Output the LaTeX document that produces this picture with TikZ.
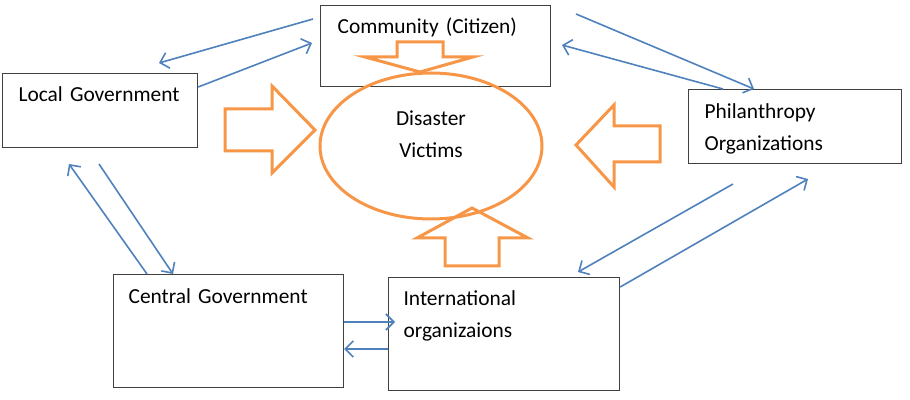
\documentclass[tikz,border=0pt]{standalone}
\usepackage{fontspec}
\setmainfont{Carlito}
\usetikzlibrary{arrows.meta,shapes.geometric}
\definecolor{frame}{HTML}{404040}
\definecolor{relation}{HTML}{4F81BD}
\definecolor{support}{HTML}{F79646}

\begin{document}
\begin{tikzpicture}[x=0.5pt,y=-0.5pt,
    actor/.style={draw=frame,line width=0.6pt,anchor=north west,inner ysep=0pt,
      align=left,font=\fontsize{10.7}{16}\selectfont},
    victims/.style={draw=support,line width=1.5pt,ellipse,inner sep=0pt,
      minimum width=111pt,minimum height=73pt,align=center,
      text height=23pt,text depth=11pt,font=\fontsize{10.7}{16}\selectfont},
    flow/.style={relation,line width=0.8pt,-{Straight Barb[length=4pt,width=8pt]}},
    aid/.style={support,line width=1.5pt,line join=miter}]
  \useasboundingbox (0,0) rectangle (910,400);

  % Actors
  \node[actor,inner xsep=8.5pt,text width=98pt,text height=14pt,text depth=26.5pt]
    (comm) at (320,5) {Community (Citizen)};
  \node[actor,inner xsep=8pt,text width=81.5pt,text height=14pt,text depth=23pt]
    (loc) at (2,73) {Local Government};
  \node[actor,inner xsep=8pt,text width=90.5pt,text height=14.5pt,text depth=22.5pt]
    (phil) at (688,89) {Philanthropy\\Organizations};
  \node[actor,inner xsep=7.5pt,text width=100pt,text height=14.5pt,text depth=42pt]
    (cen) at (113,274) {Central Government};
  \node[actor,inner xsep=7.5pt,text width=100.5pt,text height=14pt,text depth=42.5pt]
    (intl) at (388,277) {International\\organizaions};

  % Victims in the middle
  \node[victims] (vict) at (431,146) {Disaster\\Victims};

  % Help flowing towards the victims
  \draw[aid] (397,42) -- (443,42) -- (443,57) -- (473,57) -- (420,72)
    -- (365,57) -- (397,57) -- cycle;
  \draw[aid] (225,109) -- (272,109) -- (272,86) -- (315,130) -- (272,173)
    -- (272,151) -- (225,151) -- cycle;
  \draw[aid] (660,126) -- (614,126) -- (614,105) -- (576,145) -- (614,187)
    -- (614,162) -- (660,162) -- cycle;
  \draw[aid] (445,266) -- (445,238) -- (417,238) -- (472,208) -- (528,238)
    -- (499,238) -- (499,266) -- cycle;

  % Free ends of the relations
  \coordinate (comm-w1) at (313,19);
  \coordinate (loc-n) at (159,63);
  \coordinate (comm-w2) at (312,43);
  \coordinate (comm-e1) at (576,14);
  \coordinate (comm-e2) at (562,45);
  \coordinate (loc-s1) at (99,164);
  \coordinate (loc-s2) at (69,164);
  \coordinate (phil-s1) at (733,184);
  \coordinate (phil-s2) at (808,179);
  \coordinate (intl-n) at (578,272);

  % Relations between actors
  \draw[flow] (comm-w1) -- (loc-n);
  \draw[flow] ([yshift=-7pt]loc.north east) -- (comm-w2);
  \draw[flow] (comm-e1) -- ([xshift=33pt]phil.north west);
  \draw[flow] ([xshift=17.5pt]phil.north west) -- (comm-e2);
  \draw[flow] (loc-s1) -- ([xshift=30pt]cen.north west);
  \draw[flow] ([xshift=17pt]cen.north west) -- (loc-s2);
  \draw[flow] ([yshift=-24pt]cen.north east) -- ([xshift=3.5pt,yshift=-22.5pt]intl.north west);
  \draw[flow] ([yshift=-36pt]intl.north west) -- ([yshift=-37.5pt]cen.north east);
  \draw[flow] (phil-s1) -- (intl-n);
  \draw[flow] ([yshift=-5pt]intl.north east) -- (phil-s2);
\end{tikzpicture}
\end{document}
